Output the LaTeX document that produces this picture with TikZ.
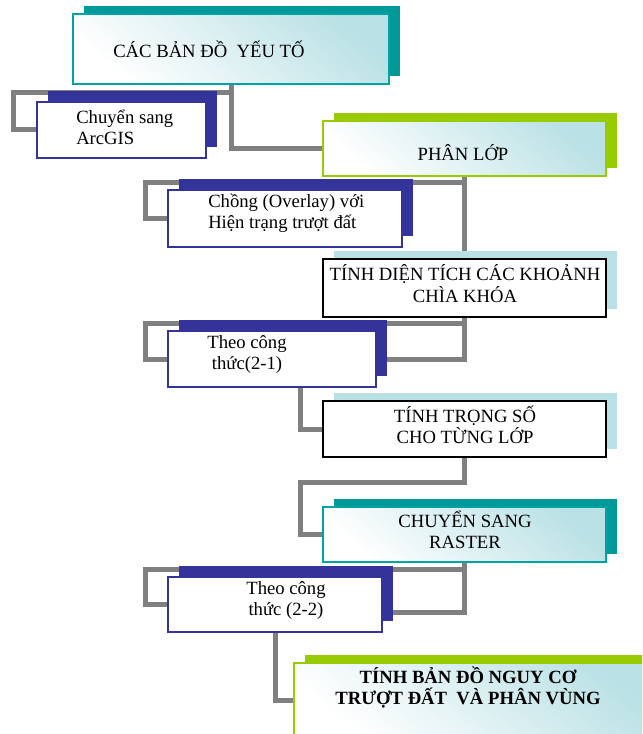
\documentclass[tikz,border=0pt]{standalone}
\usepackage{fontspec}
\setmainfont{Liberation Serif}
\usetikzlibrary{shadows, backgrounds}

\definecolor{tealdark}{RGB}{0,153,153}
\definecolor{tealline}{RGB}{0,163,163}
\definecolor{tealpale}{RGB}{186,225,229}
\definecolor{navy}{RGB}{51,51,153}
\definecolor{limegreen}{RGB}{153,204,0}
\definecolor{skyshadow}{RGB}{185,224,228}
\definecolor{linkgray}{RGB}{128,128,128}

\tikzset{
	label text/.style = {font = \fontsize{14}{16}\selectfont, inner sep = 0pt},
	panel/.style = {inner sep = 0pt, top color = tealpale, bottom color = white, shading angle = -40},
	tealbox/.style = {panel, draw = tealline, line width = 1.1pt,
		general shadow = {fill = tealdark, shadow xshift = 8.25pt, shadow yshift = 6pt}},
	greenbox/.style = {panel, draw = limegreen, line width = 1.5pt,
		general shadow = {fill = limegreen, shadow xshift = 8.25pt, shadow yshift = 6pt}},
	navybox/.style = {inner sep = 0pt, fill = white, draw = navy, line width = 1pt,
		general shadow = {fill = navy, shadow xshift = 8.25pt, shadow yshift = 8pt}},
	blackbox/.style = {inner sep = 0pt, fill = white, draw = black, line width = 1.8pt,
		general shadow = {fill = skyshadow, shadow xshift = 8.25pt, shadow yshift = 6pt}},
	link/.style = {draw = linkgray, line width = 3.75pt}
}

\begin{document}
\begin{tikzpicture}[x = 0.75pt, y = -0.75pt]

	% Page frame
	
	\useasboundingbox (0, 0) rectangle (642, 734);
	\clip (0, 0) rectangle (642, 734);
	
	% Boxes on the main column
	
	\node [tealbox, minimum width = 237pt, minimum height = 52.5pt] (maps) at (231, 49) {};
	\node [greenbox, minimum width = 212.25pt, minimum height = 41.25pt] (phanlop) at (464.5, 148.5) {};
	\node [blackbox, minimum width = 212.25pt, minimum height = 43.5pt] (dientich) at (464.5, 288) {};
	\node [blackbox, minimum width = 212.25pt, minimum height = 42pt] (trongso) at (464.5, 429) {};
	\node [tealbox, minimum width = 212.25pt, minimum height = 41.25pt] (raster) at (464.5, 534.5) {};
	\node [greenbox, minimum width = 274.5pt, minimum height = 55.5pt] (result) at (477, 700) {};
	
	% Boxes on the side
	
	\node [navybox, minimum width = 126.75pt, minimum height = 42pt] (arcgis) at (121.5, 130) {};
	\node [navybox, minimum width = 175.5pt, minimum height = 42.75pt] (overlay) at (285, 218.5) {};
	\node [navybox, minimum width = 156pt, minimum height = 42pt] (ct1) at (272, 359) {};
	\node [navybox, minimum width = 160.5pt, minimum height = 41.25pt] (ct2) at (275, 604.5) {};
	
	% Texts
	
	\begin{scope}[label text]
	
		\node [anchor = west] (mapstxt) at (113, 49) {CÁC BẢN ĐỒ\ \ YẾU TỐ};
		\node [anchor = west, align = left] (arcgistxt) at (76, 127) {Chuyển sang\\ArcGIS};
		\node (phanloptxt) at (463, 153) {PHÂN LỚP};
		\node [anchor = west, align = left] (overlaytxt) at (208, 213.5) {Chồng (Overlay) với\\Hiện trạng trượt đất};
		\node [align = center] (dientichtxt) at (465, 283.5) {TÍNH DIỆN TÍCH CÁC KHOẢNH\\CHÌA KHÓA};
		\node [align = center] (ct1txt) at (247, 354.5) {Theo công\\thức(2-1)};
		\node [align = center] (trongsotxt) at (465, 424.5) {TÍNH TRỌNG SỐ\\CHO TỪNG LỚP};
		\node [align = center] (rastertxt) at (465, 530) {CHUYỂN SANG\\RASTER};
		\node [align = center] (ct2txt) at (286, 600.5) {Theo công\\thức (2-2)};
		\node [align = center, font = \fontsize{14}{16}\selectfont\bfseries] (resulttxt) at (468, 687.5) {TÍNH BẢN ĐỒ NGUY CƠ\\TRƯỢT ĐẤT\ \ VÀ PHÂN VÙNG};
		
	\end{scope}
	
	% Gray links behind the boxes
	
	\begin{scope}[on background layer]
	\begin{scope}[link]
	
		\draw (maps.south) |- (13, 93) |- (arcgis.west);
		\draw (maps.south) |- (phanlop.west);
		\draw (phanlop.south) |- (145, 183) |- (overlay.west);
		\draw (phanlop.south) -- (dientich.north);
		\draw (dientich.south) |- (145, 323) |- (ct1.west);
		\draw (dientich.south) |- (ct1.east);
		\draw (ct1.-45) |- (trongso.west);
		\draw (trongso.south) |- (300, 482) |- (raster.west);
		\draw (raster.south) |- (145, 569) |- (ct2.west);
		\draw (raster.south) |- (ct2.-4);
		\draw (ct2.south) |- (result.west);
		
	\end{scope}
	\end{scope}
		
\end{tikzpicture}
\end{document}
